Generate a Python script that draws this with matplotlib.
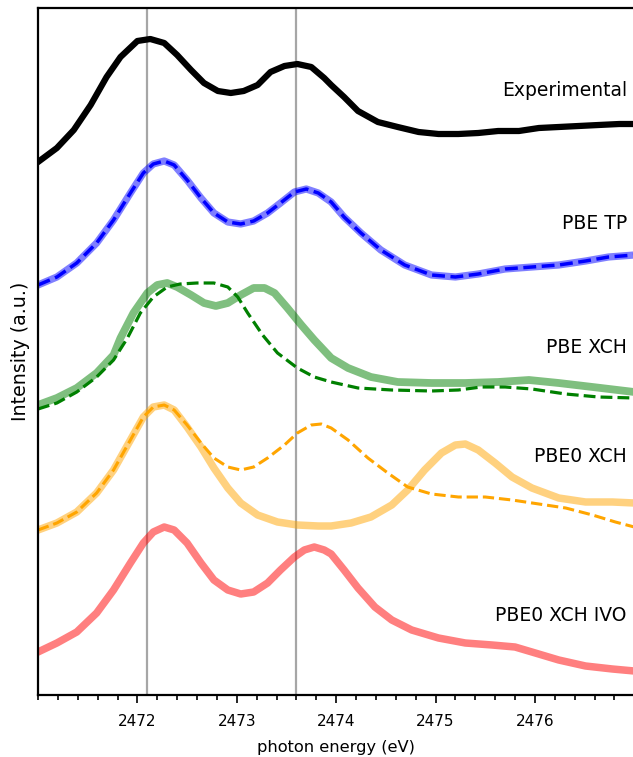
import numpy as np
import matplotlib
matplotlib.use("Agg")
import matplotlib.pyplot as plt
from matplotlib.ticker import MultipleLocator

# spectra (intensity in arbitrary units, offsets included)
exp_e = [2471.0, 2471.19, 2471.36, 2471.53, 2471.69, 2471.83, 2472.00, 2472.13, 2472.27, 2472.40, 2472.54,
         2472.67, 2472.81, 2472.94, 2473.07, 2473.21, 2473.34, 2473.48, 2473.61, 2473.75, 2473.88, 2473.95,
         2474.08, 2474.22, 2474.42, 2474.62, 2474.83, 2475.03, 2475.23, 2475.43, 2475.63, 2475.84, 2476.04,
         2476.24, 2476.44, 2476.64, 2476.85, 2477.0]
exp_i = [5.33, 5.47, 5.65, 5.90, 6.18, 6.38, 6.54, 6.56, 6.52, 6.40, 6.25, 6.12, 6.04, 6.02, 6.04, 6.10,
         6.23, 6.29, 6.31, 6.28, 6.17, 6.10, 5.98, 5.84, 5.73, 5.68, 5.63, 5.61, 5.61, 5.62, 5.64, 5.64,
         5.67, 5.68, 5.69, 5.70, 5.71, 5.71]

pbe_tp_e = [2471.0, 2471.19, 2471.39, 2471.59, 2471.76, 2471.93, 2472.06, 2472.16, 2472.27, 2472.37, 2472.50,
            2472.64, 2472.77, 2472.91, 2473.04, 2473.17, 2473.31, 2473.44, 2473.58, 2473.70, 2473.82, 2473.95,
            2474.08, 2474.25, 2474.45, 2474.69, 2474.96, 2475.20, 2475.43, 2475.70, 2475.97, 2476.24, 2476.51,
            2476.74, 2477.0]
pbe_tp_i = [4.10, 4.18, 4.32, 4.52, 4.75, 5.02, 5.22, 5.31, 5.34, 5.30, 5.15, 4.97, 4.82, 4.73, 4.71, 4.74,
            4.82, 4.92, 5.03, 5.06, 5.02, 4.93, 4.78, 4.62, 4.45, 4.30, 4.20, 4.18, 4.21, 4.26, 4.28, 4.30,
            4.34, 4.38, 4.40]

pbe_xch_e = [2471.0, 2471.19, 2471.39, 2471.59, 2471.76, 2471.83, 2471.96, 2472.10, 2472.20, 2472.30, 2472.40,
             2472.54, 2472.67, 2472.79, 2472.91, 2473.04, 2473.17, 2473.28, 2473.38, 2473.51, 2473.65, 2473.78,
             2473.95, 2474.12, 2474.35, 2474.62, 2474.96, 2475.30, 2475.63, 2475.94, 2476.24, 2476.58, 2477.0]
pbe_xch_i = [2.90, 2.97, 3.07, 3.22, 3.40, 3.57, 3.82, 4.02, 4.10, 4.12, 4.08, 4.00, 3.92, 3.89, 3.92, 4.00,
             4.07, 4.07, 4.02, 3.87, 3.70, 3.55, 3.37, 3.27, 3.18, 3.13, 3.12, 3.12, 3.13, 3.15, 3.12, 3.08,
             3.03]

pbe_xch2_e = [2471.0, 2471.19, 2471.39, 2471.59, 2471.76, 2471.90, 2472.03, 2472.16, 2472.30, 2472.43, 2472.60,
              2472.77, 2472.91, 2473.01, 2473.11, 2473.26, 2473.41, 2473.61, 2473.78, 2473.95, 2474.22, 2474.56,
              2474.96, 2475.23, 2475.46, 2475.70, 2475.97, 2476.31, 2476.64, 2477.0]
pbe_xch2_i = [2.86, 2.92, 3.03, 3.18, 3.35, 3.57, 3.82, 3.98, 4.08, 4.11, 4.12, 4.12, 4.08, 3.98, 3.82, 3.60,
              3.42, 3.27, 3.18, 3.13, 3.07, 3.05, 3.04, 3.05, 3.08, 3.08, 3.06, 3.01, 2.98, 2.97]

pbe0_xch_e = [2471.0, 2471.19, 2471.39, 2471.59, 2471.76, 2471.93, 2472.06, 2472.16, 2472.27, 2472.37, 2472.50,
              2472.64, 2472.77, 2472.91, 2473.04, 2473.21, 2473.41, 2473.61, 2473.82, 2473.95, 2474.15, 2474.35,
              2474.56, 2474.72, 2474.89, 2475.06, 2475.20, 2475.30, 2475.43, 2475.60, 2475.77, 2475.97, 2476.24,
              2476.51, 2476.78, 2477.0]
pbe0_xch_i = [1.65, 1.72, 1.83, 2.02, 2.25, 2.55, 2.78, 2.88, 2.90, 2.85, 2.68, 2.48, 2.27, 2.07, 1.92, 1.80,
              1.73, 1.70, 1.69, 1.69, 1.72, 1.78, 1.90, 2.05, 2.25, 2.42, 2.50, 2.51, 2.45, 2.32, 2.18, 2.07,
              1.97, 1.93, 1.93, 1.92]

pbe0_xch2_e = [2471.0, 2471.19, 2471.39, 2471.59, 2471.76, 2471.93, 2472.06, 2472.16, 2472.27, 2472.37, 2472.50,
               2472.64, 2472.77, 2472.91, 2473.04, 2473.17, 2473.31, 2473.48, 2473.61, 2473.75, 2473.85, 2473.95,
               2474.12, 2474.32, 2474.52, 2474.72, 2474.96, 2475.23, 2475.50, 2475.77, 2476.04, 2476.31, 2476.58,
               2476.81, 2477.0]
pbe0_xch2_i = [1.65, 1.72, 1.83, 2.02, 2.25, 2.55, 2.78, 2.88, 2.90, 2.85, 2.70, 2.52, 2.37, 2.28, 2.25, 2.28,
               2.37, 2.50, 2.62, 2.70, 2.71, 2.67, 2.55, 2.37, 2.22, 2.08, 2.01, 1.98, 1.98, 1.95, 1.91, 1.87,
               1.80, 1.73, 1.68]

ivo_e = [2471.0, 2471.19, 2471.39, 2471.59, 2471.76, 2471.93, 2472.06, 2472.16, 2472.27, 2472.37, 2472.50,
         2472.64, 2472.77, 2472.91, 2473.04, 2473.17, 2473.31, 2473.44, 2473.58, 2473.68, 2473.78, 2473.88,
         2473.95, 2474.08, 2474.22, 2474.39, 2474.56, 2474.76, 2475.03, 2475.30, 2475.57, 2475.80, 2475.97,
         2476.24, 2476.51, 2476.78, 2477.0]
ivo_i = [0.43, 0.52, 0.63, 0.82, 1.05, 1.32, 1.52, 1.63, 1.68, 1.65, 1.52, 1.32, 1.15, 1.05, 1.01, 1.03,
         1.12, 1.25, 1.38, 1.45, 1.48, 1.45, 1.41, 1.25, 1.07, 0.88, 0.75, 0.65, 0.57, 0.52, 0.50, 0.48,
         0.43, 0.35, 0.29, 0.26, 0.24]

ref_lines = [2472.1, 2473.6]
labels = ["Experimental", "PBE TP", "PBE XCH", "PBE0 XCH", "PBE0 XCH IVO"]
label_y = [5.99, 4.66, 3.42, 2.33, 0.74]

fig = plt.figure(figsize=(6.33, 7.57), dpi=100)
ax = fig.add_axes([38 / 633, 62 / 757, 1.002 - 38 / 633, 687 / 757])

for e in ref_lines:
    ax.axvline(e, color="gray", alpha=0.7, lw=1.6, zorder=1)

ax.plot(exp_e, exp_i, color="black", lw=4.5)
ax.plot(pbe_tp_e, pbe_tp_i, color="b", alpha=0.5, lw=5.2)
ax.plot(pbe_tp_e, pbe_tp_i, color="b", lw=2.5, linestyle="--")
ax.plot(pbe_xch_e, pbe_xch_i, color="g", alpha=0.5, lw=5.6)
ax.plot(pbe_xch2_e, pbe_xch2_i, color="g", lw=2.3, linestyle="--")
ax.plot(pbe0_xch_e, pbe0_xch_i, color="orange", alpha=0.5, lw=5.4)
ax.plot(pbe0_xch2_e, pbe0_xch2_i, color="orange", lw=2.2, linestyle="--")
ax.plot(ivo_e, ivo_i, color="r", alpha=0.5, lw=5.4)

for lab, y in zip(labels, label_y):
    ax.text(2476.925, y, lab, ha="right", va="baseline", fontsize=13.5)

ax.set_xlim(2471, 2477)
ax.set_ylim(0, 6.87)
ax.set_xticks([2472, 2473, 2474, 2475, 2476])
ax.xaxis.set_minor_locator(MultipleLocator(0.2))
ax.tick_params(axis="x", which="major", length=6, width=1.2, labelsize=11, pad=8)
ax.tick_params(axis="x", which="minor", length=3.8, width=1.2)
ax.set_yticks([])
for s in ax.spines.values():
    s.set_linewidth(1.6)
ax.set_xlabel("photon energy (eV)", fontsize=11.7, labelpad=7.5)
ax.set_ylabel("Intensity (a.u.)", fontsize=13.7, labelpad=5.5)

plt.savefig("out.png", dpi=100)
